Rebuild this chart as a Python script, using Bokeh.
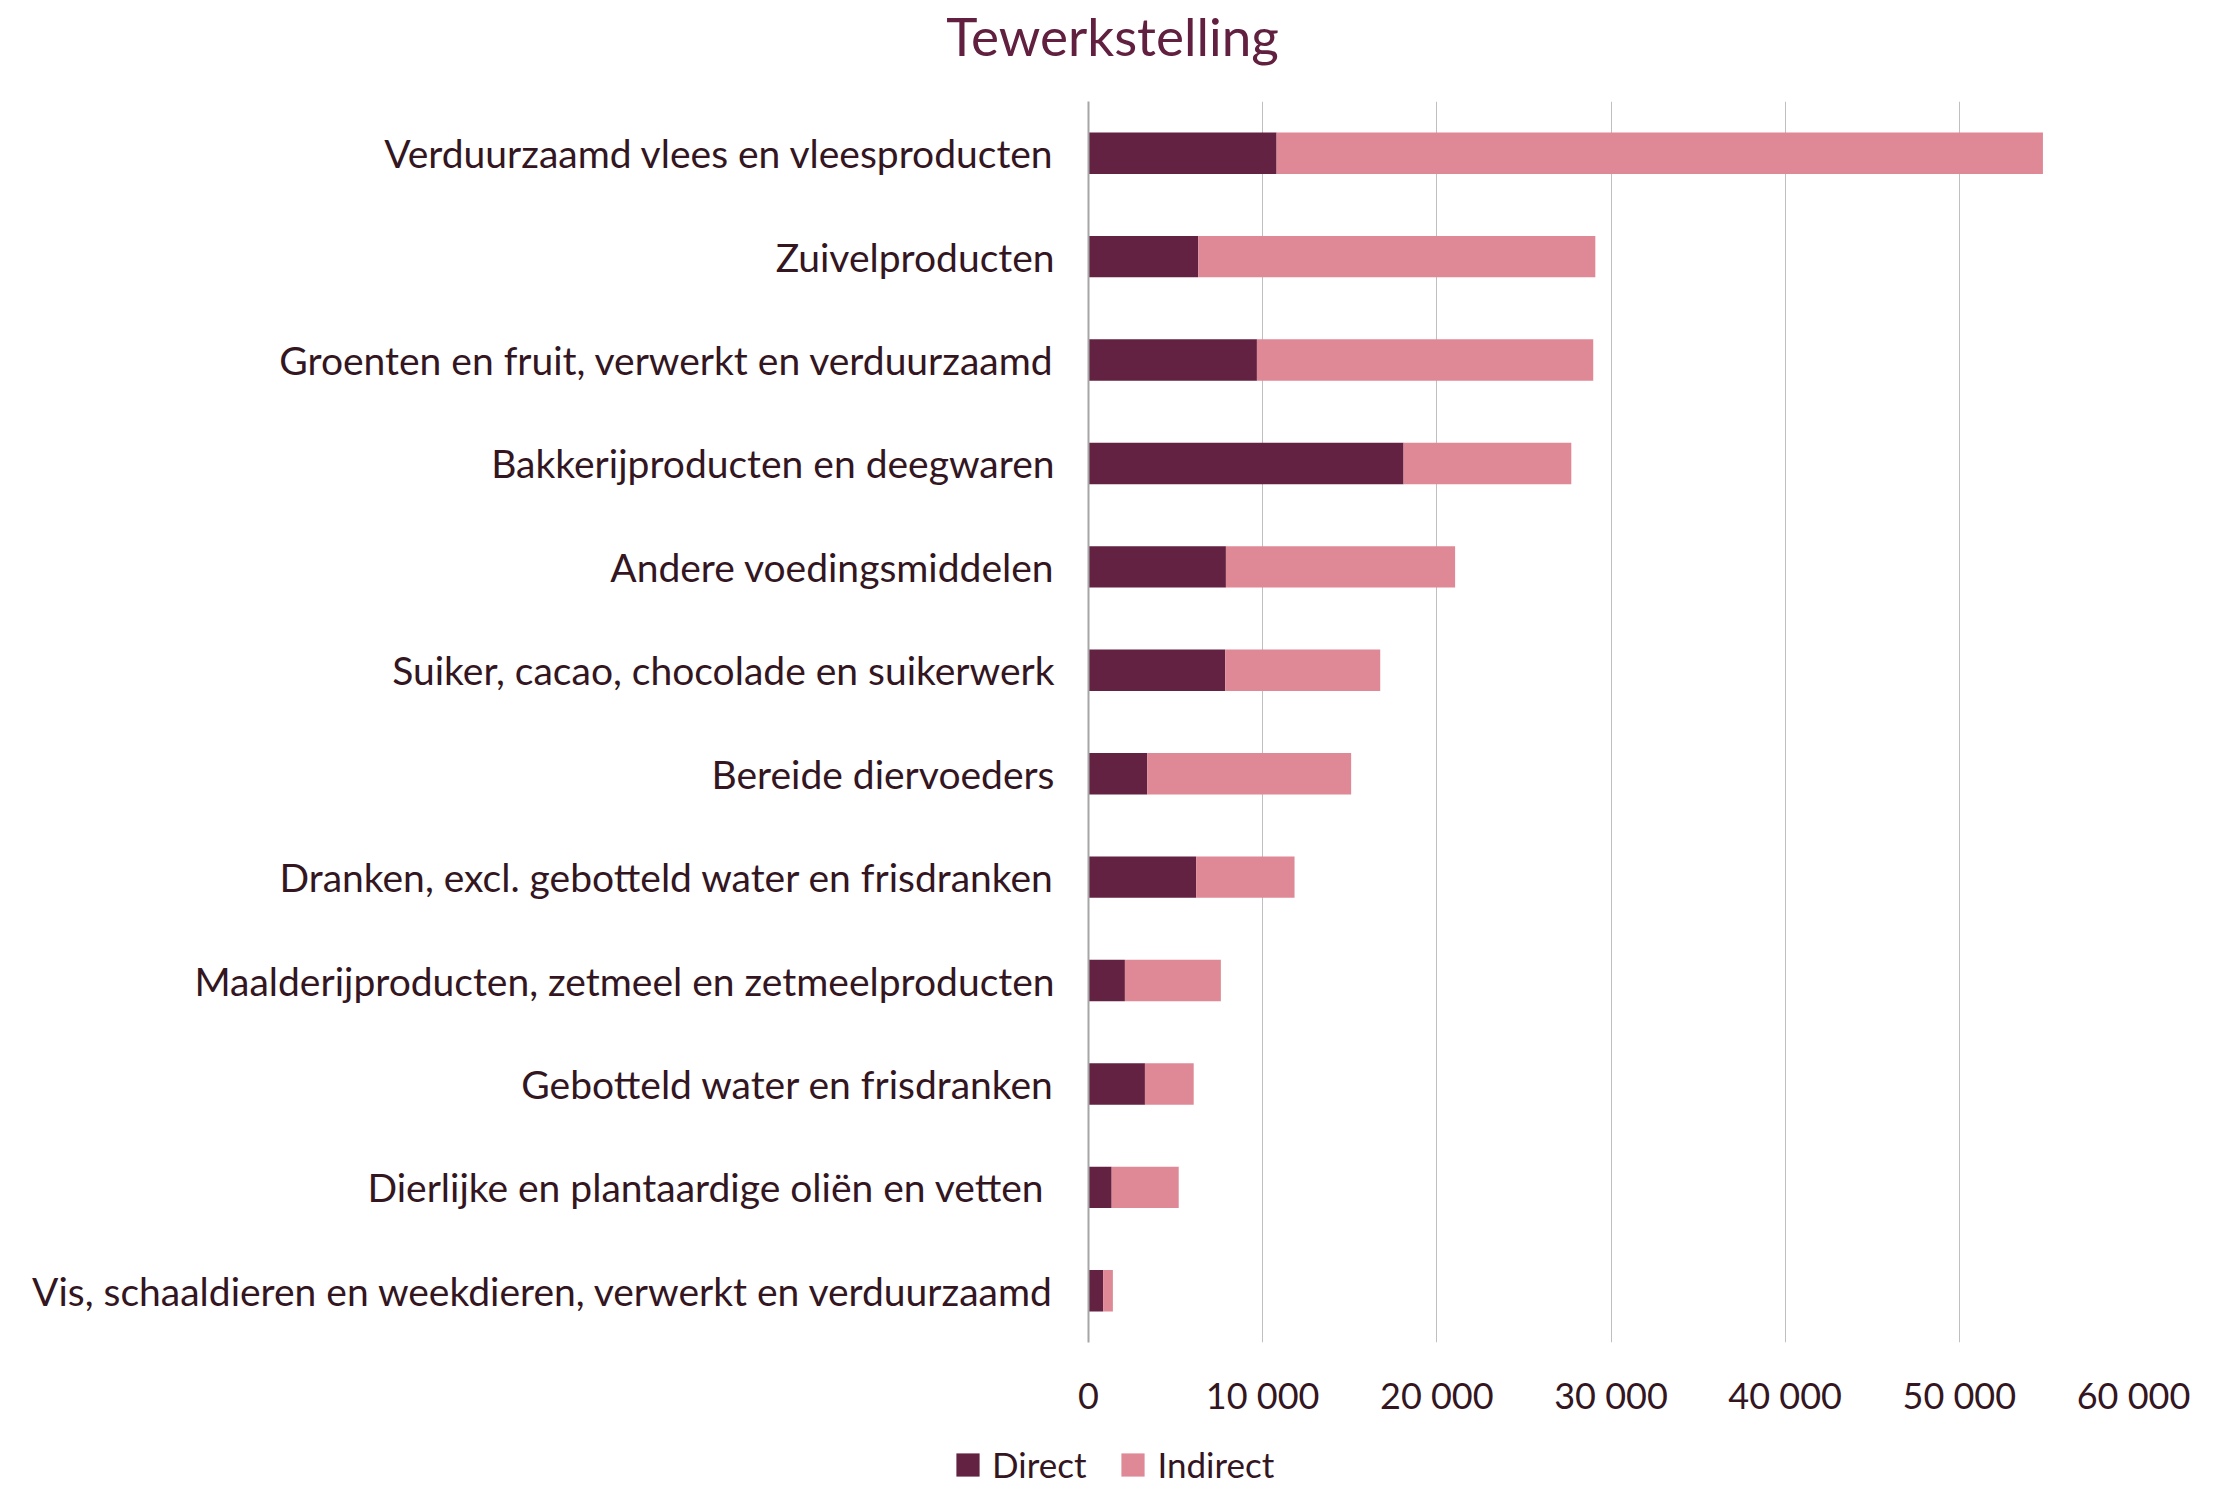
from bokeh.plotting import figure
from bokeh.models import (ColumnDataSource, FactorRange, Range1d, FixedTicker,
                          Legend, LegendItem, Label)
from bokeh.embed import file_html
from bokeh.resources import INLINE

# ---- data (top to bottom as in the chart) ----
categories = [
    "Verduurzaamd vlees en vleesproducten",
    "Zuivelproducten",
    "Groenten en fruit, verwerkt en verduurzaamd",
    "Bakkerijproducten en deegwaren",
    "Andere voedingsmiddelen",
    "Suiker, cacao, chocolade en suikerwerk",
    "Bereide diervoeders",
    "Dranken, excl. gebotteld water en frisdranken",
    "Maalderijproducten, zetmeel en zetmeelproducten",
    "Gebotteld water en frisdranken",
    "Dierlijke en plantaardige oliën en vetten ",
    "Vis, schaaldieren en weekdieren, verwerkt en verduurzaamd",
]
direct = [10800, 6300, 9670, 18090, 7890, 7850, 3370, 6180, 2090, 3240, 1330, 840]
indirect = [44000, 22800, 19310, 9630, 13160, 8900, 11710, 5650, 5510, 2800, 3850, 560]
series = ["Direct", "Indirect"]
x_ticks = [0, 10000, 20000, 30000, 40000, 50000, 60000]
x_tick_labels = ["0", "10 000", "20 000", "30 000", "40 000", "50 000", "60 000"]
title_text = "Tewerkstelling"

C_DIRECT = "#632242"
C_INDIRECT = "#DF8896"
C_TEXT = "#33161f"
C_TITLE = "#622040"
FONT = "Lato"
colors = [C_DIRECT, C_INDIRECT]

W = 2233
H_TITLE = 101
H_LEG = 45
H_MAIN = 1485 - H_TITLE - H_LEG
FRAME_H = 1241

src = ColumnDataSource(dict(cat=categories, Direct=direct, Indirect=indirect))


def strip(height, x_range, y_range):
    f = figure(width=W, height=height, x_range=x_range, y_range=y_range,
               x_axis_location=None, y_axis_location=None,
               output_backend="svg", toolbar_location=None, min_border=0)
    f.outline_line_color = None
    f.grid.visible = False
    f.background_fill_color = "white"
    f.border_fill_color = "white"
    return f


# ---- title strip ----
pt = strip(H_TITLE, Range1d(0, W), Range1d(0, H_TITLE))
pt.add_layout(Label(x=1112, y=66, x_units="screen", y_units="screen",
                    text=title_text, text_align="center", text_baseline="alphabetic",
                    text_font=FONT, text_font_size="53px", text_color=C_TITLE))

# ---- main chart ----
p = figure(width=W, height=H_MAIN,
           y_range=FactorRange(factors=list(reversed(categories)), range_padding=0),
           x_range=Range1d(0, 60000),
           output_backend="svg", toolbar_location=None,
           min_border_left=1088, min_border_right=100,
           min_border_top=0, min_border_bottom=H_MAIN - FRAME_H)
p.outline_line_color = None
p.background_fill_color = "white"
p.border_fill_color = "white"

rs = p.hbar_stack(series, y="cat", height=0.4, color=colors,
                  source=src, line_color=None)

p.xaxis.ticker = FixedTicker(ticks=x_ticks)
p.xaxis.major_label_overrides = {t: l for t, l in zip(x_ticks, x_tick_labels)}
p.xaxis.axis_line_color = None
p.xaxis.major_tick_line_color = None
p.xaxis.minor_tick_line_color = None
p.xaxis.major_tick_out = 0
p.xaxis.major_tick_in = 0
p.xaxis.major_label_standoff = 30
p.xaxis.major_label_text_font = FONT
p.xaxis.major_label_text_font_size = "36px"
p.xaxis.major_label_text_color = C_TEXT

p.yaxis.axis_line_color = "#a6a6a6"
p.yaxis.axis_line_width = 2
p.yaxis.major_tick_line_color = None
p.yaxis.minor_tick_line_color = None
p.yaxis.major_tick_out = 0
p.yaxis.major_tick_in = 0
p.yaxis.major_label_standoff = 34
p.yaxis.major_label_text_font = FONT
p.yaxis.major_label_text_font_size = "39px"
p.yaxis.major_label_text_color = C_TEXT

p.xgrid.grid_line_color = "#bfbfbf"
p.xgrid.grid_line_width = 1
p.ygrid.grid_line_color = None

# ---- legend strip (hidden copies of the stacked bars feed the legend swatches) ----
pl = strip(H_LEG, Range1d(0, 60000), FactorRange(factors=list(reversed(categories))))
hidden = pl.hbar_stack(series, y="cat", height=0.4, color=colors,
                       source=src, line_color=None, visible=False)
pl.add_layout(Legend(items=[LegendItem(label=s, renderers=[r]) for s, r in zip(series, hidden)],
                     orientation="horizontal", location=(953, 0),
                     glyph_width=29, glyph_height=29, label_standoff=10, spacing=32,
                     padding=0, margin=0, border_line_color=None,
                     background_fill_alpha=0, inactive_fill_alpha=0,
                     label_text_font=FONT, label_text_font_size="35px",
                     label_text_line_height=0.8,
                     label_text_color=C_TEXT))

open("out.html", "w").write(file_html([pt, p, pl], INLINE))
